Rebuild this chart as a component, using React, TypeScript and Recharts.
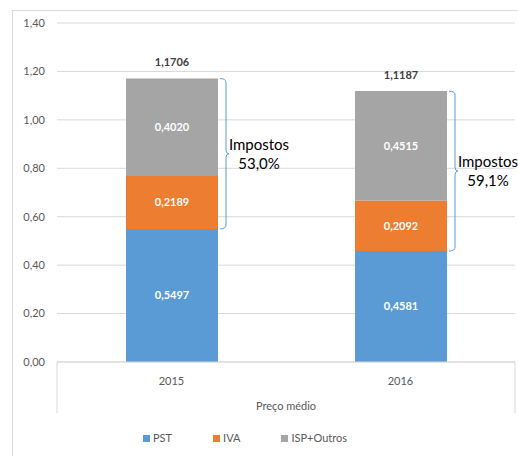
import React from 'react';
import {
  BarChart, Bar, XAxis, YAxis, CartesianGrid, LabelList,
} from 'recharts';

const years = ['2015', '2016'];
const pst = [0.5497, 0.4581];
const iva = [0.2189, 0.2092];
const ispOutros = [0.402, 0.4515];
const totals = [1.1706, 1.1187];
const taxShare = ['53,0%', '59,1%'];
const yTicks = [0, 0.2, 0.4, 0.6, 0.8, 1.0, 1.2, 1.4];
const groupLabel = 'Preço médio';

const seriesNames = ['PST', 'IVA', 'ISP+Outros'];
const seriesColors = ['#5B9BD5', '#ED7D31', '#A5A5A5'];

const W = 518;
const H = 456;
const PLOT_LEFT = 57;
const PLOT_RIGHT = 515;
const BAND = (PLOT_RIGHT - PLOT_LEFT) / years.length;
const FONT = 'Lato, "Open Sans", sans-serif';

const data = years.map((year, i) => ({
  year,
  pst: pst[i],
  iva: iva[i],
  isp: ispOutros[i],
}));

const comma = (v: number, d: number) => v.toFixed(d).replace('.', ',');

function XTick(props: any) {
  const { x, y, payload, index } = props;
  return (
    <g>
      <text
        x={x}
        y={y + 18}
        textAnchor="middle"
        dominantBaseline="central"
        fontSize={11}
        fill="#595959"
        fontFamily={FONT}
      >
        {payload.value}
      </text>
      {index === 0 && (
        <g>
          <line x1={x - BAND / 2} x2={x - BAND / 2} y1={y} y2={y + 51} stroke="#D9D9D9" />
          <line x1={x + BAND * 1.5} x2={x + BAND * 1.5} y1={y} y2={y + 51} stroke="#D9D9D9" />
          <text
            x={x + BAND / 2}
            y={y + 43}
            textAnchor="middle"
            dominantBaseline="central"
            fontSize={11}
            fill="#595959"
            fontFamily={FONT}
          >
            {groupLabel}
          </text>
        </g>
      )}
    </g>
  );
}

function TaxBrace(props: any) {
  const vb = props.viewBox || props;
  const i = props.index;
  const x = Number(vb.x);
  const w = Number(vb.width);
  const h = Math.abs(Number(vb.height));
  const top = Math.min(Number(vb.y), Number(vb.y) + Number(vb.height));
  const pxPerUnit = h / ispOutros[i];
  const bottom = top + (ispOutros[i] + iva[i]) * pxPerUnit;
  const mid = (top + bottom) / 2;
  const x0 = x + w + 2;
  const d = `M${x0},${top} Q${x0 + 6},${top} ${x0 + 6},${top + 4} L${x0 + 6},${mid - 4} Q${x0 + 6},${mid} ${x0 + 9},${mid} Q${x0 + 6},${mid} ${x0 + 6},${mid + 4} L${x0 + 6},${bottom - 4} Q${x0 + 6},${bottom} ${x0},${bottom}`;
  const cx = x + w + 41;
  return (
    <g>
      <text
        x={x + w / 2}
        y={top - 17}
        textAnchor="middle"
        dominantBaseline="central"
        fontSize={11}
        fontWeight="bold"
        fill="#404040"
        fontFamily={FONT}
      >
        {comma(totals[i], 4)}
      </text>
      <path d={d} fill="none" stroke="#5B9BD5" strokeWidth={1} />
      <text x={cx} y={mid - 10} textAnchor="middle" dominantBaseline="central" fontSize={15} fill="#000" fontFamily={FONT}>
        Impostos
      </text>
      <text x={cx} y={mid + 9} textAnchor="middle" dominantBaseline="central" fontSize={15} fill="#000" fontFamily={FONT}>
        {taxShare[i]}
      </text>
    </g>
  );
}

const segLabel = {
  position: 'center' as const,
  fill: '#ffffff',
  fontSize: 11,
  fontWeight: 'bold',
  fontFamily: FONT,
  formatter: (v: any) => comma(Number(v), 4),
};

export default function App() {
  const keys = ['pst', 'iva', 'isp'];
  return (
    <div style={{ position: 'absolute', left: 0, top: 0, width: W, height: H, background: '#fff', overflow: 'hidden' }}>
      <div
        style={{
          position: 'absolute', left: 12, top: 10, width: W + 20, height: H + 20,
          border: '1px solid #D9D9D9', boxSizing: 'border-box',
        }}
      />
      <div style={{ position: 'absolute', left: 0, top: 0 }}>
        <BarChart
          width={W}
          height={H}
          data={data}
          margin={{ top: 23, right: W - PLOT_RIGHT, left: 0, bottom: 0 }}
          barSize={92}
        >
          <CartesianGrid horizontal vertical={false} stroke="#D9D9D9" />
          <YAxis
            width={PLOT_LEFT}
            domain={[0, 1.4]}
            ticks={yTicks}
            tickFormatter={(v: number) => comma(v, 2)}
            axisLine={false}
            tickLine={false}
            tickMargin={6}
            tick={{ fontSize: 11, fill: '#595959', fontFamily: FONT }}
          />
          <XAxis
            dataKey="year"
            height={H - 362}
            axisLine={{ stroke: '#D9D9D9' }}
            tickLine={false}
            tickSize={0}
            tickMargin={0}
            interval={0}
            tick={<XTick />}
          />
          {keys.map((k, si) => (
            <Bar key={k} dataKey={k} stackId="a" fill={seriesColors[si]} isAnimationActive={false}>
              <LabelList dataKey={k} {...segLabel} />
              {k === 'isp' && <LabelList dataKey={k} content={<TaxBrace />} />}
            </Bar>
          ))}
        </BarChart>
      </div>
      <div
        style={{
          position: 'absolute', left: 143, top: 431, display: 'flex', alignItems: 'center',
          fontFamily: FONT, fontSize: 11, color: '#595959', lineHeight: '14px',
        }}
      >
        {seriesNames.map((n, i) => (
          <div key={n} style={{ display: 'flex', alignItems: 'center', marginRight: 41 }}>
            <span style={{ width: 7, height: 7, background: seriesColors[i], display: 'inline-block', marginRight: 3 }} />
            <span>{n}</span>
          </div>
        ))}
      </div>
    </div>
  );
}
